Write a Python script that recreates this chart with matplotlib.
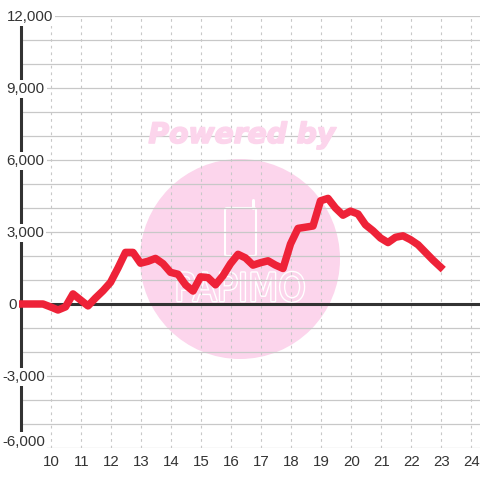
import matplotlib
matplotlib.use("Agg")
import matplotlib.pyplot as plt
import matplotlib.patheffects as pe
from matplotlib.patches import Circle, FancyBboxPatch
from matplotlib.transforms import IdentityTransform, blended_transform_factory

# hour of day / balance
hours = [9.0, 9.25, 9.5, 9.75, 10.0, 10.25, 10.5, 10.75, 11.0, 11.25, 11.5, 11.75,
         12.0, 12.25, 12.5, 12.75, 13.0, 13.25, 13.5, 13.75, 14.0, 14.25, 14.5, 14.75,
         15.0, 15.25, 15.5, 15.75, 16.0, 16.25, 16.5, 16.75, 17.0, 17.25, 17.5, 17.75,
         18.0, 18.25, 18.5, 18.75, 19.0, 19.25, 19.5, 19.75, 20.0, 20.25, 20.5, 20.75,
         21.0, 21.25, 21.5, 21.75, 22.0, 22.25, 22.5, 22.75, 23.0]
balance = [0, 0, 0, 0, -120, -250, -120, 420, 170, -80, 250, 550,
           900, 1500, 2150, 2150, 1700, 1780, 1900, 1680, 1320, 1240, 800, 540,
           1130, 1100, 800, 1180, 1680, 2070, 1920, 1620, 1720, 1800, 1620, 1480,
           2500, 3150, 3200, 3250, 4300, 4400, 4000, 3700, 3870, 3750, 3300, 3050,
           2750, 2560, 2780, 2840, 2680, 2470, 2150, 1830, 1540]

ytick_values = [12000, 9000, 6000, 3000, 0, -3000, -6000]
ytick_labels = ["12,000", "9,000", "6,000", "3,000", "0", "-3,000", "-6,000"]
label_y = [11960, 8960, 5960, 2960, -40, -3040, -5730]
label_left_px = [6.5, 6.5, 6.5, 6.5, 8, 2, 2]
ygrid = list(range(-6000, 12001, 1000))
xticks = list(range(10, 25))

LINE = "#333333"
GRID = "#c8c8c8"
RED = "#ee2238"
PINK = "#fcd5ec"

plt.rcParams["font.family"] = ["Liberation Sans", "DejaVu Sans"]

fig = plt.figure(figsize=(4.8, 4.8), dpi=100)
ax = fig.add_axes([20.5 / 480, 32 / 480, 459.5 / 480, 432 / 480])
ax.set_xlim(9, 9 + 459.5 / 30)
ax.set_ylim(-6000, 12000)
ax.patch.set_alpha(0)
for s in ax.spines.values():
    s.set_visible(False)
ax.set_xticks([])
ax.set_yticks([])

# watermark, placed in pixels
px = IdentityTransform()
ax.add_patch(Circle((240, 480 - 259), 100, transform=px, fc=PINK, ec="none", zorder=1, clip_on=False))
fig.text(242 / 480, 1 - 135 / 480, "Powered by", color=PINK, fontsize=20.3, fontweight="bold",
         fontstyle="italic", family="DejaVu Sans", ha="center", va="center", zorder=0,
         path_effects=[pe.withStroke(linewidth=1.2, foreground=PINK)])
ax.add_patch(FancyBboxPatch((227, 480 - 254), 27, 44, boxstyle="round,pad=2", transform=px,
                            fc="none", ec="white", lw=1.5, zorder=1.5, clip_on=False))
ax.plot([253, 253], [480 - 208, 480 - 200], transform=px, color="white", lw=2.2, solid_capstyle="round",
        zorder=1.5, clip_on=False)
ax.text(240, 480 - 290, "PAPIMO", transform=px, color=PINK, fontsize=28, family="DejaVu Sans",
        fontstretch="condensed", ha="center", va="center", zorder=1.5,
        path_effects=[pe.withStroke(linewidth=2, foreground="white")])

for v in ygrid:
    ax.axhline(v, color=GRID, lw=0.9, zorder=2)
for x in xticks:
    ax.axvline(x, color=GRID, lw=0.8, ls=(0, (2.5, 3.5)), zorder=2)

ax.axvline(9, color=LINE, lw=2.2, zorder=3, clip_on=False)
ax.axhline(0, color=LINE, lw=2.2, zorder=3)
ax.plot(hours, balance, color=RED, lw=5.4, solid_joinstyle="round", solid_capstyle="projecting",
        zorder=4, clip_on=False)

# tick labels sit on white boxes that break the axis line
trans_y = blended_transform_factory(px, ax.transData)
for y, lab, left in zip(label_y, ytick_labels, label_left_px):
    ax.text(left, y, lab, transform=trans_y, ha="left", va="center", fontsize=10.8, color=LINE, zorder=5,
            clip_on=False, bbox=dict(fc="white", ec="none", pad=1.5))
trans_x = blended_transform_factory(ax.transData, px)
for x in xticks:
    ax.text(x + 0.03, 480 - 462, str(x), transform=trans_x, ha="center", va="center", fontsize=10.8, color=LINE,
            zorder=5, clip_on=False)

fig.savefig("out.png", dpi=100)
